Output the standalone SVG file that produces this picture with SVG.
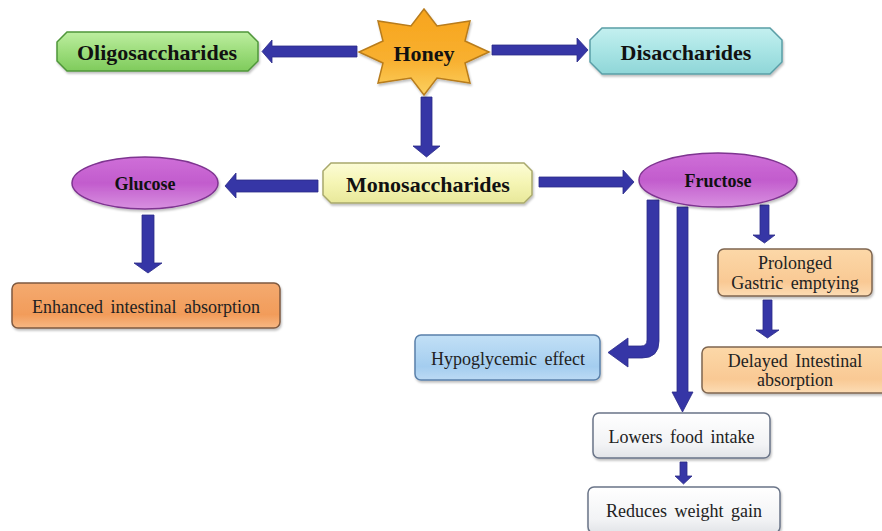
<svg xmlns="http://www.w3.org/2000/svg" width="882" height="531" viewBox="0 0 882 531">
<defs>
<linearGradient id="gGreen" x1="0" y1="0" x2="0" y2="1"><stop offset="0" stop-color="#bdeea0"/><stop offset="0.5" stop-color="#9ddd7c"/><stop offset="1" stop-color="#7fcb5c"/></linearGradient>
<linearGradient id="gCyan" x1="0" y1="0" x2="0" y2="1"><stop offset="0" stop-color="#c4f0f0"/><stop offset="0.5" stop-color="#a8e4e4"/><stop offset="1" stop-color="#8fd6d8"/></linearGradient>
<linearGradient id="gYellow" x1="0" y1="0" x2="0" y2="1"><stop offset="0" stop-color="#fcfcd6"/><stop offset="0.5" stop-color="#f5f5b4"/><stop offset="1" stop-color="#e8e89a"/></linearGradient>
<linearGradient id="gHoney" x1="0" y1="0" x2="0" y2="1"><stop offset="0" stop-color="#f7a41c"/><stop offset="0.6" stop-color="#f8b030"/><stop offset="1" stop-color="#fbd060"/></linearGradient>
<linearGradient id="gMagenta" x1="0" y1="0" x2="0" y2="1"><stop offset="0" stop-color="#cf6fd8"/><stop offset="0.5" stop-color="#c25ccd"/><stop offset="1" stop-color="#d890e0"/></linearGradient>
<linearGradient id="gOrange" x1="0" y1="0" x2="0" y2="1"><stop offset="0" stop-color="#f4aa70"/><stop offset="0.7" stop-color="#f29c5a"/><stop offset="1" stop-color="#f7b884"/></linearGradient>
<linearGradient id="gPeach" x1="0" y1="0" x2="0" y2="1"><stop offset="0" stop-color="#fcd8a8"/><stop offset="0.7" stop-color="#f9c994"/><stop offset="1" stop-color="#fcdcb4"/></linearGradient>
<linearGradient id="gBlue" x1="0" y1="0" x2="0" y2="1"><stop offset="0" stop-color="#c2e0f6"/><stop offset="0.7" stop-color="#a4cdef"/><stop offset="1" stop-color="#bcdaf4"/></linearGradient>
<linearGradient id="gWhite" x1="0" y1="0" x2="0" y2="1"><stop offset="0" stop-color="#ffffff"/><stop offset="0.7" stop-color="#f2f3f5"/><stop offset="1" stop-color="#e2e4e8"/></linearGradient>
<filter id="sh" x="-10%" y="-10%" width="120%" height="140%"><feDropShadow dx="1" dy="2" stdDeviation="1.2" flood-color="#000" flood-opacity="0.25"/></filter>
</defs>
<style>
.arrow{fill:#3636a6;stroke:#2b2b88;stroke-width:0.8;stroke-linejoin:miter}
.bold{font-family:"Liberation Serif","Times New Roman",serif;font-weight:bold;fill:#111;text-anchor:middle}
.reg{font-family:"Liberation Serif","Times New Roman",serif;font-size:18px;fill:#222;text-anchor:middle;word-spacing:3px}
.box{stroke-width:1.5;filter:url(#sh)}
</style>
<rect width="882" height="531" fill="#ffffff"/>

<g id="connectors">
<polygon class="arrow" points="357,46 272,46 272,40 262,51.5 272,63 272,57 357,57"/>
<polygon class="arrow" points="492,45 577,45 577,38 588,50 577,62 577,55 492,55"/>
<polygon class="arrow" points="421,97 432,97 432,146 440,146 426.5,157 413,146 421,146"/>
<polygon class="arrow" points="318,180 236,180 236,173 225,186 236,198 236,192 318,192"/>
<polygon class="arrow" points="142,215 154,215 154,263 162,263 148,273 134,263 142,263"/>
<polygon class="arrow" points="539,177 623,177 623,170 634,182 623,194 623,187 539,187"/>
<path class="arrow" d="M647,200 L659,200 L659,341 Q659,358 642,358 L628,358 L628,367 L608,352.5 L628,338 L628,346 L641,346 Q647,346 647,340 Z"/>
<polygon class="arrow" points="677,207 688,207 688,392 693,392 682.5,412 672,392 677,392"/>
<polygon class="arrow" points="760,205 769,205 769,235 775,235 764.5,243 753,235 760,235"/>
<polygon class="arrow" points="763,300 772,300 772,330 779,330 767.5,338 756,330 763,330"/>
<polygon class="arrow" points="680,462 687,462 687,476 692,476 683.5,484 675,476 680,476"/>
</g>

<g id="honey">
<polygon class="box" fill="url(#gHoney)" stroke="#b87c1c" points="424,9 437,26 470,21 465,41 489,52 465,63 470,83 437,78 424,95 411,78 378,83 383,63 359,52 383,41 378,21 411,26"/>
<text class="bold" x="424" y="61" font-size="22">Honey</text>
</g>

<g id="oligosaccharides">
<polygon class="box" fill="url(#gGreen)" stroke="#4f963a" points="67,32 248,32 258,42 258,61 248,71 67,71 57,61 57,42"/>
<text class="bold" x="157" y="60" font-size="22">Oligosaccharides</text>
</g>

<g id="disaccharides">
<polygon class="box" fill="url(#gCyan)" stroke="#5a9ea6" points="602,28 770,28 782,40 782,62 770,74 602,74 590,62 590,40"/>
<text class="bold" x="686" y="60" font-size="22">Disaccharides</text>
</g>

<g id="monosaccharides">
<polygon class="box" fill="url(#gYellow)" stroke="#a8a86c" points="331,163 524,163 532,171 532,195 524,203 331,203 323,195 323,171"/>
<text class="bold" x="428" y="192" font-size="22">Monosaccharides</text>
</g>

<g id="glucose">
<ellipse class="box" cx="145" cy="183" rx="73" ry="26" fill="url(#gMagenta)" stroke="#7e3490"/>
<text class="bold" x="145" y="190" font-size="18">Glucose</text>
</g>

<g id="fructose">
<ellipse class="box" cx="718" cy="180" rx="79" ry="27" fill="url(#gMagenta)" stroke="#7e3490"/>
<text class="bold" x="718" y="187" font-size="18">Fructose</text>
</g>

<g id="enhanced">
<rect class="box" x="12" y="283" width="268" height="45" rx="6" fill="url(#gOrange)" stroke="#7f5a40"/>
<text class="reg" x="146" y="313">Enhanced intestinal absorption</text>
</g>

<g id="hypoglycemic">
<rect class="box" x="415" y="335" width="185" height="45" rx="6" fill="url(#gBlue)" stroke="#5a80aa"/>
<text class="reg" x="508" y="365">Hypoglycemic effect</text>
</g>

<g id="prolonged">
<rect class="box" x="718" y="249" width="154" height="47" rx="6" fill="url(#gPeach)" stroke="#7f6650"/>
<text class="reg" x="795" y="269">Prolonged</text>
<text class="reg" x="795" y="289">Gastric emptying</text>
</g>

<g id="delayed">
<rect class="box" x="702" y="347" width="186" height="46" rx="6" fill="url(#gPeach)" stroke="#7f6650"/>
<text class="reg" x="795" y="367">Delayed Intestinal</text>
<text class="reg" x="795" y="386">absorption</text>
</g>

<g id="lowers">
<rect class="box" x="593" y="413" width="177" height="45" rx="6" fill="url(#gWhite)" stroke="#6a7488"/>
<text class="reg" x="681.5" y="443">Lowers food intake</text>
</g>

<g id="reduces">
<rect class="box" x="588" y="487" width="192" height="46" rx="6" fill="url(#gWhite)" stroke="#6a7488"/>
<text class="reg" x="684" y="517">Reduces weight gain</text>
</g>
</svg>
